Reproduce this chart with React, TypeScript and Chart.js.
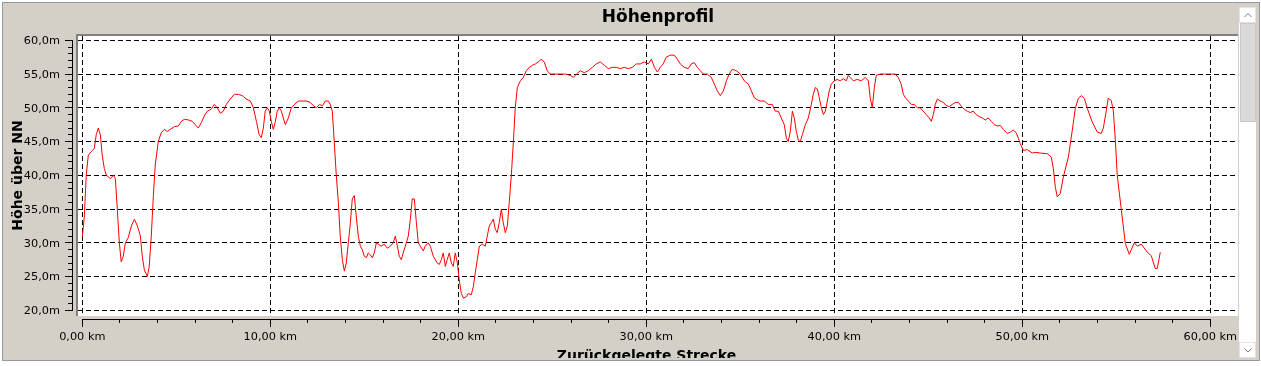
import React, { useEffect, useRef } from "react";
import { Chart, registerables } from "chart.js";

Chart.register(...registerables);

const FONT = "'DejaVu Sans', sans-serif";

const chartTitle = "Höhenprofil";
const xAxisTitle = "Zurückgelegte Strecke";
const yAxisTitle = "Höhe über NN";

// distance along the route (km)
const distanceKm = [
  0.0, 0.11, 0.21, 0.32, 0.48, 0.64, 0.74, 0.85, 0.96, 1.06,
  1.17, 1.28, 1.38, 1.49, 1.65, 1.76, 1.86, 1.97, 2.07, 2.18,
  2.29, 2.45, 2.61, 2.77, 2.93, 3.09, 3.19, 3.3, 3.46, 3.56,
  3.67, 3.78, 3.88, 4.04, 4.2, 4.36, 4.52, 4.68, 4.89, 5.11,
  5.27, 5.43, 5.64, 5.85, 6.01, 6.17, 6.33, 6.49, 6.65, 6.86,
  7.02, 7.18, 7.34, 7.5, 7.66, 7.87, 8.09, 8.3, 8.51, 8.72,
  8.94, 9.1, 9.26, 9.41, 9.52, 9.63, 9.73, 9.84, 9.95, 10.05,
  10.16, 10.27, 10.37, 10.48, 10.59, 10.69, 10.8, 10.96, 11.12, 11.28,
  11.49, 11.7, 11.91, 12.13, 12.29, 12.45, 12.61, 12.77, 12.93, 13.09,
  13.19, 13.3, 13.4, 13.51, 13.62, 13.72, 13.83, 13.94, 14.04, 14.15,
  14.26, 14.36, 14.47, 14.57, 14.68, 14.79, 14.89, 15.0, 15.11, 15.21,
  15.32, 15.43, 15.53, 15.64, 15.74, 15.9, 16.06, 16.22, 16.38, 16.54,
  16.65, 16.76, 16.86, 16.97, 17.07, 17.18, 17.34, 17.45, 17.55, 17.66,
  17.77, 17.87, 17.98, 18.14, 18.24, 18.4, 18.51, 18.67, 18.78, 18.88,
  18.99, 19.1, 19.2, 19.31, 19.41, 19.52, 19.63, 19.73, 19.84, 19.95,
  20.05, 20.16, 20.27, 20.43, 20.53, 20.69, 20.8, 20.9, 21.01, 21.12,
  21.28, 21.44, 21.54, 21.65, 21.76, 21.86, 21.97, 22.07, 22.18, 22.29,
  22.39, 22.5, 22.61, 22.71, 22.82, 22.93, 23.03, 23.14, 23.3, 23.46,
  23.62, 23.78, 23.94, 24.1, 24.26, 24.41, 24.57, 24.73, 24.89, 25.16,
  25.43, 25.69, 25.96, 26.12, 26.28, 26.49, 26.7, 26.91, 27.13, 27.34,
  27.55, 27.77, 27.98, 28.19, 28.4, 28.62, 28.83, 29.04, 29.26, 29.47,
  29.68, 29.89, 30.11, 30.27, 30.43, 30.59, 30.74, 30.9, 31.06, 31.28,
  31.49, 31.65, 31.81, 32.02, 32.23, 32.39, 32.55, 32.71, 32.87, 33.03,
  33.24, 33.46, 33.62, 33.78, 33.94, 34.1, 34.26, 34.41, 34.57, 34.79,
  35.0, 35.21, 35.43, 35.59, 35.74, 35.9, 36.06, 36.28, 36.49, 36.7,
  36.86, 37.02, 37.18, 37.34, 37.45, 37.55, 37.66, 37.77, 37.87, 37.98,
  38.09, 38.19, 38.3, 38.46, 38.62, 38.78, 38.88, 38.99, 39.1, 39.2,
  39.31, 39.42, 39.52, 39.63, 39.73, 39.84, 40.0, 40.16, 40.32, 40.48,
  40.64, 40.74, 40.85, 41.01, 41.22, 41.44, 41.65, 41.81, 41.91, 42.02,
  42.13, 42.23, 42.45, 42.71, 42.98, 43.24, 43.4, 43.56, 43.67, 43.78,
  43.94, 44.1, 44.26, 44.41, 44.57, 44.73, 44.89, 45.05, 45.16, 45.27,
  45.37, 45.48, 45.64, 45.8, 45.96, 46.12, 46.28, 46.44, 46.6, 46.76,
  46.91, 47.07, 47.23, 47.39, 47.55, 47.71, 47.87, 48.03, 48.19, 48.35,
  48.51, 48.67, 48.83, 48.99, 49.2, 49.36, 49.52, 49.68, 49.79, 49.89,
  50.05, 50.27, 50.53, 50.69, 50.96, 51.33, 51.54, 51.65, 51.76, 51.86,
  52.02, 52.18, 52.45, 52.66, 52.82, 52.98, 53.14, 53.3, 53.46, 53.72,
  53.99, 54.2, 54.31, 54.47, 54.57, 54.73, 54.84, 54.95, 55.05, 55.27,
  55.48, 55.69, 55.96, 56.12, 56.33, 56.65, 56.86, 57.07, 57.18, 57.34,
];

// height above sea level (m)
const heightM = [
  30.8, 34, 40, 43, 43.5, 44, 46, 47, 46, 43,
  41, 40, 39.8, 39.5, 40, 39.5, 35, 30, 27.2, 28,
  30, 30.8, 32.5, 33.5, 32.5, 31, 28, 26, 25, 26.5,
  31, 37, 41.5, 45, 46.3, 46.8, 46.5, 46.8, 47.2, 47.3,
  48, 48.3, 48.2, 48, 47.5, 47, 47.8, 48.8, 49.5, 49.8,
  50.5, 50, 49.2, 49.5, 50.5, 51.3, 52, 52, 51.8, 51.3,
  51, 50, 48, 46, 45.6, 47, 49.5, 50, 49.5, 48,
  46.8, 48, 49.5, 50, 49.5, 48.5, 47.5, 48.5, 50, 50.5,
  51, 51, 51, 50.8, 50.3, 50, 50.5, 50.3, 51, 51,
  50.5, 49.5, 45, 40, 36, 31, 27.5, 25.8, 27, 30,
  33, 36.5, 37, 34, 31, 29.5, 29, 28, 27.8, 28.5,
  28.2, 27.8, 28.5, 30, 29.8, 29.5, 29.8, 29.2, 29.5, 30,
  31, 29.5, 28, 27.5, 28.5, 29.5, 31, 33.5, 36.5, 36.5,
  33, 30, 29.5, 28.8, 29.5, 30, 29.5, 28, 27.5, 27,
  26.8, 27.5, 28.5, 26.5, 27.5, 28.5, 27, 26.5, 28.5, 27,
  24.5, 22.5, 21.8, 22, 22.5, 22.3, 23.5, 25.5, 27.5, 29.5,
  29.8, 29.5, 31, 32.5, 33, 33.5, 32, 31.5, 33, 35,
  33, 31.5, 32.5, 36, 40, 45, 50, 53, 54, 54.5,
  55.5, 56, 56.3, 56.5, 56.8, 57.2, 56.8, 55.5, 55, 55,
  55, 55, 54.8, 54.5, 55, 55.5, 55.2, 55.5, 56, 56.5,
  56.8, 56.3, 55.8, 56, 56, 55.8, 56, 55.8, 56, 56.5,
  56.5, 56.8, 56.5, 57.2, 56, 55.3, 56, 56.5, 57.5, 57.8,
  57.8, 57.2, 56.5, 56, 55.8, 56.5, 56.7, 56, 55.5, 55,
  55, 54.5, 53.5, 52.5, 51.8, 52.5, 54, 55, 55.7, 55.5,
  55, 54, 53.5, 52.5, 51.5, 51.2, 51, 51, 50.5, 50.5,
  49.5, 49.5, 48.5, 47.5, 45.5, 45, 46.5, 49.5, 48.5, 46.5,
  45.2, 45, 46, 47.5, 48.5, 50.5, 52, 53, 52.8, 51.5,
  50, 49, 49.5, 51, 52.5, 53.5, 54, 54.2, 54, 54.3,
  54, 54.8, 54.5, 54, 54.2, 54, 54.5, 54, 51.5, 50,
  53, 54.8, 55, 55, 55, 55, 54.5, 53.5, 52, 51.5,
  51, 50.5, 50.5, 50, 50, 49.5, 49, 48.5, 48, 49,
  50.5, 51.3, 51, 50.8, 50.3, 50.2, 50.5, 50.8, 50.8, 50.2,
  49.8, 49.5, 49.3, 49.5, 49, 48.7, 48.5, 48.2, 48.5, 48,
  47.5, 47.3, 47.4, 46.8, 46.2, 46.4, 46.7, 46.3, 45.5, 44.7,
  43.7, 43.8, 43.3, 43.4, 43.3, 43.2, 42.7, 41, 38.2, 36.8,
  37.3, 39.7, 42.7, 46.7, 49.9, 51.4, 51.8, 51.4, 49.9, 47.9,
  46.4, 46.2, 47, 49.6, 51.4, 51.1, 49.6, 45.2, 40, 34.8,
  29.9, 28.3, 30, 29.5, 29.8, 28.6, 28.1, 26.2, 26.2, 28.6,
];

const xTicksKm = [0, 10, 20, 30, 40, 50, 60];
const xMinorStepKm = 2;
const yTicksM = [20, 25, 30, 35, 40, 45, 50, 55, 60];
const yMinorStepM = 1;

const xRange = { min: -0.2287, max: 61.4734 };
const yRange = { min: 19.156, max: 60.637 };

const fmtKm = (v: number) => v.toFixed(2).replace(".", ",") + " km";
const fmtM = (v: number) => v.toFixed(1).replace(".", ",") + "m";

const winChartPlugin = {
  id: "winChart",
  beforeDraw(chart: any) {
    const { ctx, chartArea: a } = chart;
    ctx.save();
    ctx.fillStyle = "#ffffff";
    ctx.fillRect(a.left, a.top, a.right - a.left, a.bottom - a.top);
    ctx.fillStyle = "#808080";
    ctx.fillRect(a.left - 2, a.top - 2, a.right - a.left + 2, 2);
    ctx.fillRect(a.left - 2, a.top - 2, 2, a.bottom - a.top + 2);
    ctx.restore();
  },
  afterDraw(chart: any) {
    const { ctx, chartArea: a } = chart;
    const xs = chart.scales.x;
    const ys = chart.scales.y;
    const col = (v: number) => Math.floor(xs.getPixelForValue(v));
    const row = (v: number) => Math.floor(ys.getPixelForValue(v));
    ctx.save();
    ctx.fillStyle = "#000000";
    const xFirst = xTicksKm[0];
    const xLast = xTicksKm[xTicksKm.length - 1];
    const axisY = a.bottom + 3;
    ctx.fillRect(col(xFirst), axisY, col(xLast) - col(xFirst) + 1, 1);
    for (let v = xFirst; v <= xLast; v += xMinorStepKm) {
      const major = xTicksKm.includes(v);
      ctx.fillRect(col(v), axisY, 1, major ? 8 : 4);
    }
    const yFirst = yTicksM[0];
    const yLast = yTicksM[yTicksM.length - 1];
    const axisX = a.left - 6;
    ctx.fillRect(axisX, row(yLast), 1, row(yFirst) - row(yLast) + 1);
    for (let v = yFirst; v <= yLast; v += yMinorStepM) {
      const major = yTicksM.includes(v);
      const len = major ? 8 : 5;
      ctx.fillRect(axisX - len + 1, row(v), len, 1);
    }
    ctx.font = `bold 14px ${FONT}`;
    ctx.textAlign = "center";
    ctx.textBaseline = "alphabetic";
    ctx.fillText(xAxisTitle, (col(xFirst) + col(xLast)) / 2 + 0.5, a.bottom + 43.5);
    ctx.translate(a.left - 56.5, (row(yFirst) + row(yLast)) / 2 + 0.5);
    ctx.rotate(-Math.PI / 2);
    ctx.fillText(yAxisTitle, 0, 0);
    ctx.restore();
  },
};

function Chevron({ up }: { up: boolean }) {
  return (
    <svg width="14" height="14" style={{ position: "absolute", left: 1, top: 0 }}>
      <polyline
        points={up ? "3.5,9 7,5.5 10.5,9" : "3.5,5.5 7,9 10.5,5.5"}
        fill="none"
        stroke="#7a7a7a"
        strokeWidth="1"
      />
    </svg>
  );
}

export default function App() {
  const ref = useRef<HTMLCanvasElement | null>(null);

  useEffect(() => {
    const canvas = ref.current;
    if (!canvas) return;
    const tickFont = { family: FONT, size: 11.3 };
    const chart = new Chart(canvas, {
      type: "line",
      data: {
        datasets: [
          {
            label: "Höhe",
            data: distanceKm.map((d, i) => ({ x: d, y: heightM[i] })),
            borderColor: "#ff0000",
            borderWidth: 1,
            pointRadius: 0,
            tension: 0,
            fill: false,
          },
        ],
      },
      options: {
        responsive: false,
        animation: false,
        devicePixelRatio: 1,
        layout: { padding: 0 },
        events: [],
        plugins: {
          legend: { display: false },
          tooltip: { enabled: false },
          title: {
            display: true,
            text: chartTitle,
            fullSize: false,
            color: "#000000",
            font: { family: FONT, size: 17, weight: "bold", lineHeight: 1.2 },
            padding: { top: 7.6, bottom: 8 },
          },
        },
        scales: {
          x: {
            type: "linear",
            min: xRange.min,
            max: xRange.max,
            afterBuildTicks: (s: any) => {
              s.ticks = xTicksKm.map((v) => ({ value: v }));
            },
            afterFit: (s: any) => {
              s.height = 42;
              s.paddingLeft = 0;
              s.paddingRight = 0;
            },
            border: { display: false, dash: [5, 3] },
            grid: { color: "#000000", lineWidth: 1, drawTicks: false },
            ticks: {
              padding: 14,
              color: "#000000",
              font: tickFont,
              maxRotation: 0,
              autoSkip: false,
              callback: (v: any) => fmtKm(Number(v)),
            },
          },
          y: {
            type: "linear",
            min: yRange.min,
            max: yRange.max,
            afterBuildTicks: (s: any) => {
              s.ticks = yTicksM.map((v) => ({ value: v }));
            },
            afterFit: (s: any) => {
              s.width = 78;
              s.paddingTop = 0;
              s.paddingBottom = 0;
            },
            border: { display: false, dash: [5, 3] },
            grid: { color: "#000000", lineWidth: 1, drawTicks: false },
            ticks: {
              padding: 18,
              color: "#000000",
              font: tickFont,
              labelOffset: 1,
              autoSkip: false,
              callback: (v: any) => fmtM(Number(v)),
            },
          },
        },
      },
      plugins: [winChartPlugin],
    } as any);
    return () => chart.destroy();
  }, []);

  return (
    <div
      style={{
        position: "fixed",
        left: 0,
        top: 0,
        width: 1261,
        height: 366,
        background: "#ffffff",
        overflow: "hidden",
      }}
    >
      <div
        style={{
          position: "absolute",
          left: 2,
          top: 2,
          width: 1258,
          height: 359,
          boxSizing: "border-box",
          border: "1px solid #9499a1",
          background: "#d4d0c8",
        }}
      />
      <canvas
        ref={ref}
        width={1238}
        height={358}
        style={{ position: "absolute", left: 0, top: 0, width: 1238, height: 358 }}
      />
      <div
        style={{
          position: "absolute",
          left: 1239,
          top: 7,
          width: 17,
          height: 351,
          background: "#ffffff",
        }}
      >
        <div
          style={{
            position: "absolute",
            left: 0,
            top: 0,
            width: 17,
            height: 16,
            boxSizing: "border-box",
            border: "1px solid #e2e2e2",
            background: "#ffffff",
          }}
        >
          <Chevron up={true} />
        </div>
        <div
          style={{
            position: "absolute",
            left: 1,
            top: 16,
            width: 16,
            height: 99,
            boxSizing: "border-box",
            border: "1px solid #c9c9c9",
            background: "#dadada",
          }}
        />
        <div
          style={{
            position: "absolute",
            left: 0,
            top: 335,
            width: 17,
            height: 16,
            boxSizing: "border-box",
            border: "1px solid #e2e2e2",
            background: "#ffffff",
          }}
        >
          <Chevron up={false} />
        </div>
      </div>
    </div>
  );
}
